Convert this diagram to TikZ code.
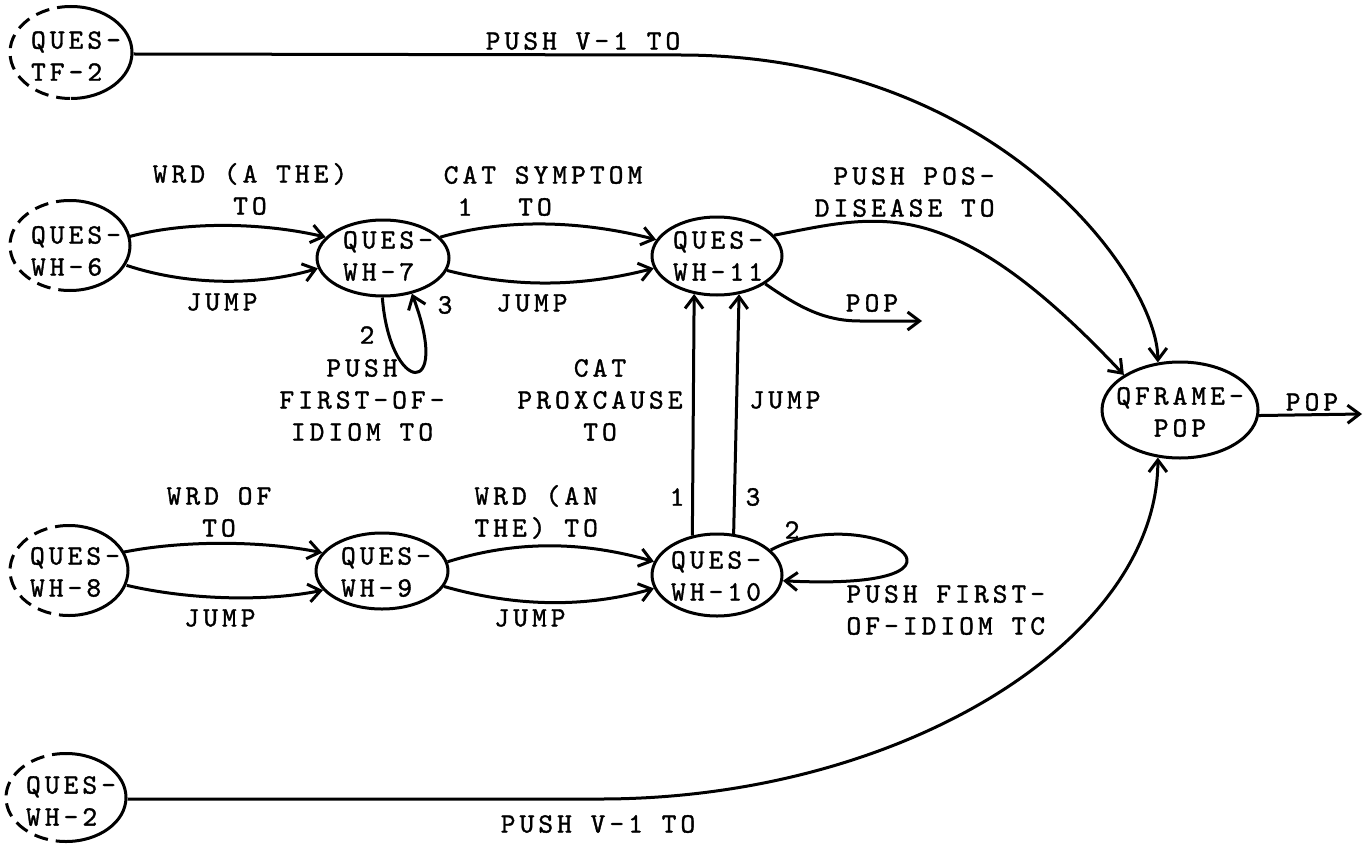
\documentclass[tikz,border=0pt]{standalone}
\usepackage{fontspec}
\newfontfamily\tw{lmmono10-regular.otf}[LetterSpace=14.6,FakeBold=1.3]
\usetikzlibrary{arrows.meta,shapes.geometric}
\begin{document}
\begin{tikzpicture}[x=0.5pt,y=-0.5pt,
  line width=1.5pt,
  every node/.style={font=\tw\fontsize{14pt}{16pt}\selectfont, inner sep=0pt},
  st/.style={ellipse, draw, inner sep=0pt},
  dst/.style={ellipse, draw=none, inner sep=0pt},
  arr/.style={-{Straight Barb[length=6pt,width=9pt]}},
  dsh/.style={dash pattern=on 7pt off 4pt},
  txt/.style={align=left},
  lbl/.style={align=center}
]
\useasboundingbox (0,0) rectangle (1368,845);

% ---------- state nodes ----------
\node[dst, minimum width=61pt, minimum height=46pt] (tf2) at (71,54) {};
\node[dst, minimum width=60pt, minimum height=45pt] (w6) at (70,247) {};
\node[st,  minimum width=66pt, minimum height=38pt] (w7) at (383,258) {};
\node[st,  minimum width=65pt, minimum height=39pt] (w11) at (717,256) {};
\node[dst, minimum width=59pt, minimum height=45pt] (w8) at (69,572) {};
\node[st,  minimum width=66pt, minimum height=38pt] (w9) at (382,571) {};
\node[st,  minimum width=65pt, minimum height=41pt] (w10) at (717,575) {};
\node[dst, minimum width=60pt, minimum height=44pt] (w2) at (66,799) {};
\node[st,  minimum width=78pt, minimum height=48pt] (qf) at (1180,410) {};

% dashed-left / solid-right outlines of entry states
\draw[dsh] (tf2.north) arc[start angle=-90, end angle=-270, x radius=61, y radius=46];
\draw      (tf2.north) arc[start angle=-90, end angle=90,   x radius=61, y radius=46];
\draw[dsh] (w6.north) arc[start angle=-90, end angle=-270, x radius=60, y radius=45];
\draw      (w6.north) arc[start angle=-90, end angle=90,   x radius=60, y radius=45];
\draw[dsh] (w8.north) arc[start angle=-90, end angle=-270, x radius=59, y radius=45];
\draw      (w8.north) arc[start angle=-90, end angle=90,   x radius=59, y radius=45];
\draw[dsh] (w2.north) arc[start angle=-90, end angle=-270, x radius=60, y radius=44];
\draw      (w2.north) arc[start angle=-90, end angle=90,   x radius=60, y radius=44];

% state texts
\node[txt] (tf2t) at (76,56) {QUES-\\TF-2};
\node[txt] (w6t) at (76,251) {QUES-\\WH-6};
\node[txt] (w7t) at (388,256) {QUES-\\WH-7};
\node[txt] (w11t) at (718,256) {QUES-\\WH-11};
\node[txt] (w8t) at (75,572) {QUES-\\WH-8};
\node[txt] (w9t) at (386,572) {QUES-\\WH-9};
\node[txt] (w10t) at (716,576) {QUES-\\WH-10};
\node[txt] (w2t) at (71,801) {QUES-\\WH-2};
\node[lbl] (qft) at (1180,412) {QFRAME-\\POP};

\coordinate (pop1) at (922,321);
\coordinate (pop2) at (1362,414);

% ---------- connectors ----------
\draw[arr] (tf2.0) -- (680,55) .. controls (1000,55) and (1158,280) .. (qf.115);
\draw[arr] (w2.0) -- (600,799) .. controls (900,799) and (1158,640) .. (qf.245);
\draw[arr] (w11.20) .. controls (880,215) and (950,190) .. (qf.148);
\draw[arr] (w11.-30) .. controls (800,308) and (825,321) .. (860,321) -- (pop1);
\draw[arr] (qf.-4) -- (pop2);

\draw[arr] (w6.10) .. controls +(60,-16) and +(-60,-14) .. (w7.160);
\draw[arr] (w6.-18) .. controls +(60,20) and +(-60,18) .. (w7.189);
\draw[arr] (w7.20) .. controls +(70,-20) and +(-70,-18) .. (w11.165);
\draw[arr] (w7.-11) .. controls +(70,18) and +(-70,18) .. (w11.191);
\draw[arr] (w8.20) .. controls +(60,-12) and +(-60,-12) .. (w9.163);
\draw[arr] (w8.-13) .. controls +(60,14) and +(-60,12) .. (w9.198);
\draw[arr] (w9.8) .. controls +(70,-22) and +(-70,-20) .. (w10.168);
\draw[arr] (w9.-14) .. controls +(70,20) and +(-70,20) .. (w10.192);

\draw[arr] (w7.269) .. controls (390,395) and (452,400) .. (w7.309);
\draw[arr] (w10.25) .. controls (870,498) and (1012,592) .. (w10.-5);

\draw[arr] (w10.122) -- (w11.239);
\draw[arr] (w10.68) -- (w11.-60);

% ---------- labels ----------
\node[lbl] (l1) at (583,41) {PUSH V-1 TO};
\node[lbl] (l2) at (598,824) {PUSH V-1 TO};
\node[lbl] (l3) at (250,189) {WRD (A THE)\\TO};
\node[lbl] (l4) at (222,302) {JUMP};
\node[lbl] (l5) at (543,175) {CAT SYMPTOM};
\node[lbl] (l6) at (465,207) {1};
\node[lbl] (l7) at (535,207) {TO};
\node[lbl] (l8) at (532,303) {JUMP};
\node[lbl] (l9) at (445,305) {3};
\node[lbl] (l10) at (367,335) {2};
\node[lbl] (l11) at (362,400) {PUSH\\FIRST-OF-\\IDIOM TO};
\node[lbl] (l12) at (600,400) {CAT\\PROXCAUSE\\TO};
\node[lbl] (l13) at (785,400) {JUMP};
\node[lbl] (l14) at (677,497) {1};
\node[lbl] (l15) at (753,497) {3};
\node[lbl] (l16) at (792,530) {2};
\node[txt, anchor=west] (l17) at (845,610) {PUSH FIRST-\\OF-IDIOM TC};
\node[align=right, anchor=east] (l18) at (996,192) {PUSH POS-\\DISEASE TO};
\node[lbl] (l19) at (872,303) {POP};
\node[lbl] (l20) at (1312,402) {POP};
\node[lbl] (l21) at (219,512) {WRD OF\\TO};
\node[txt, anchor=west] (l22) at (473,512) {WRD (AN\\THE) TO};
\node[lbl] (l23) at (220,618) {JUMP};
\node[lbl] (l24) at (530,618) {JUMP};
\end{tikzpicture}
\end{document}
